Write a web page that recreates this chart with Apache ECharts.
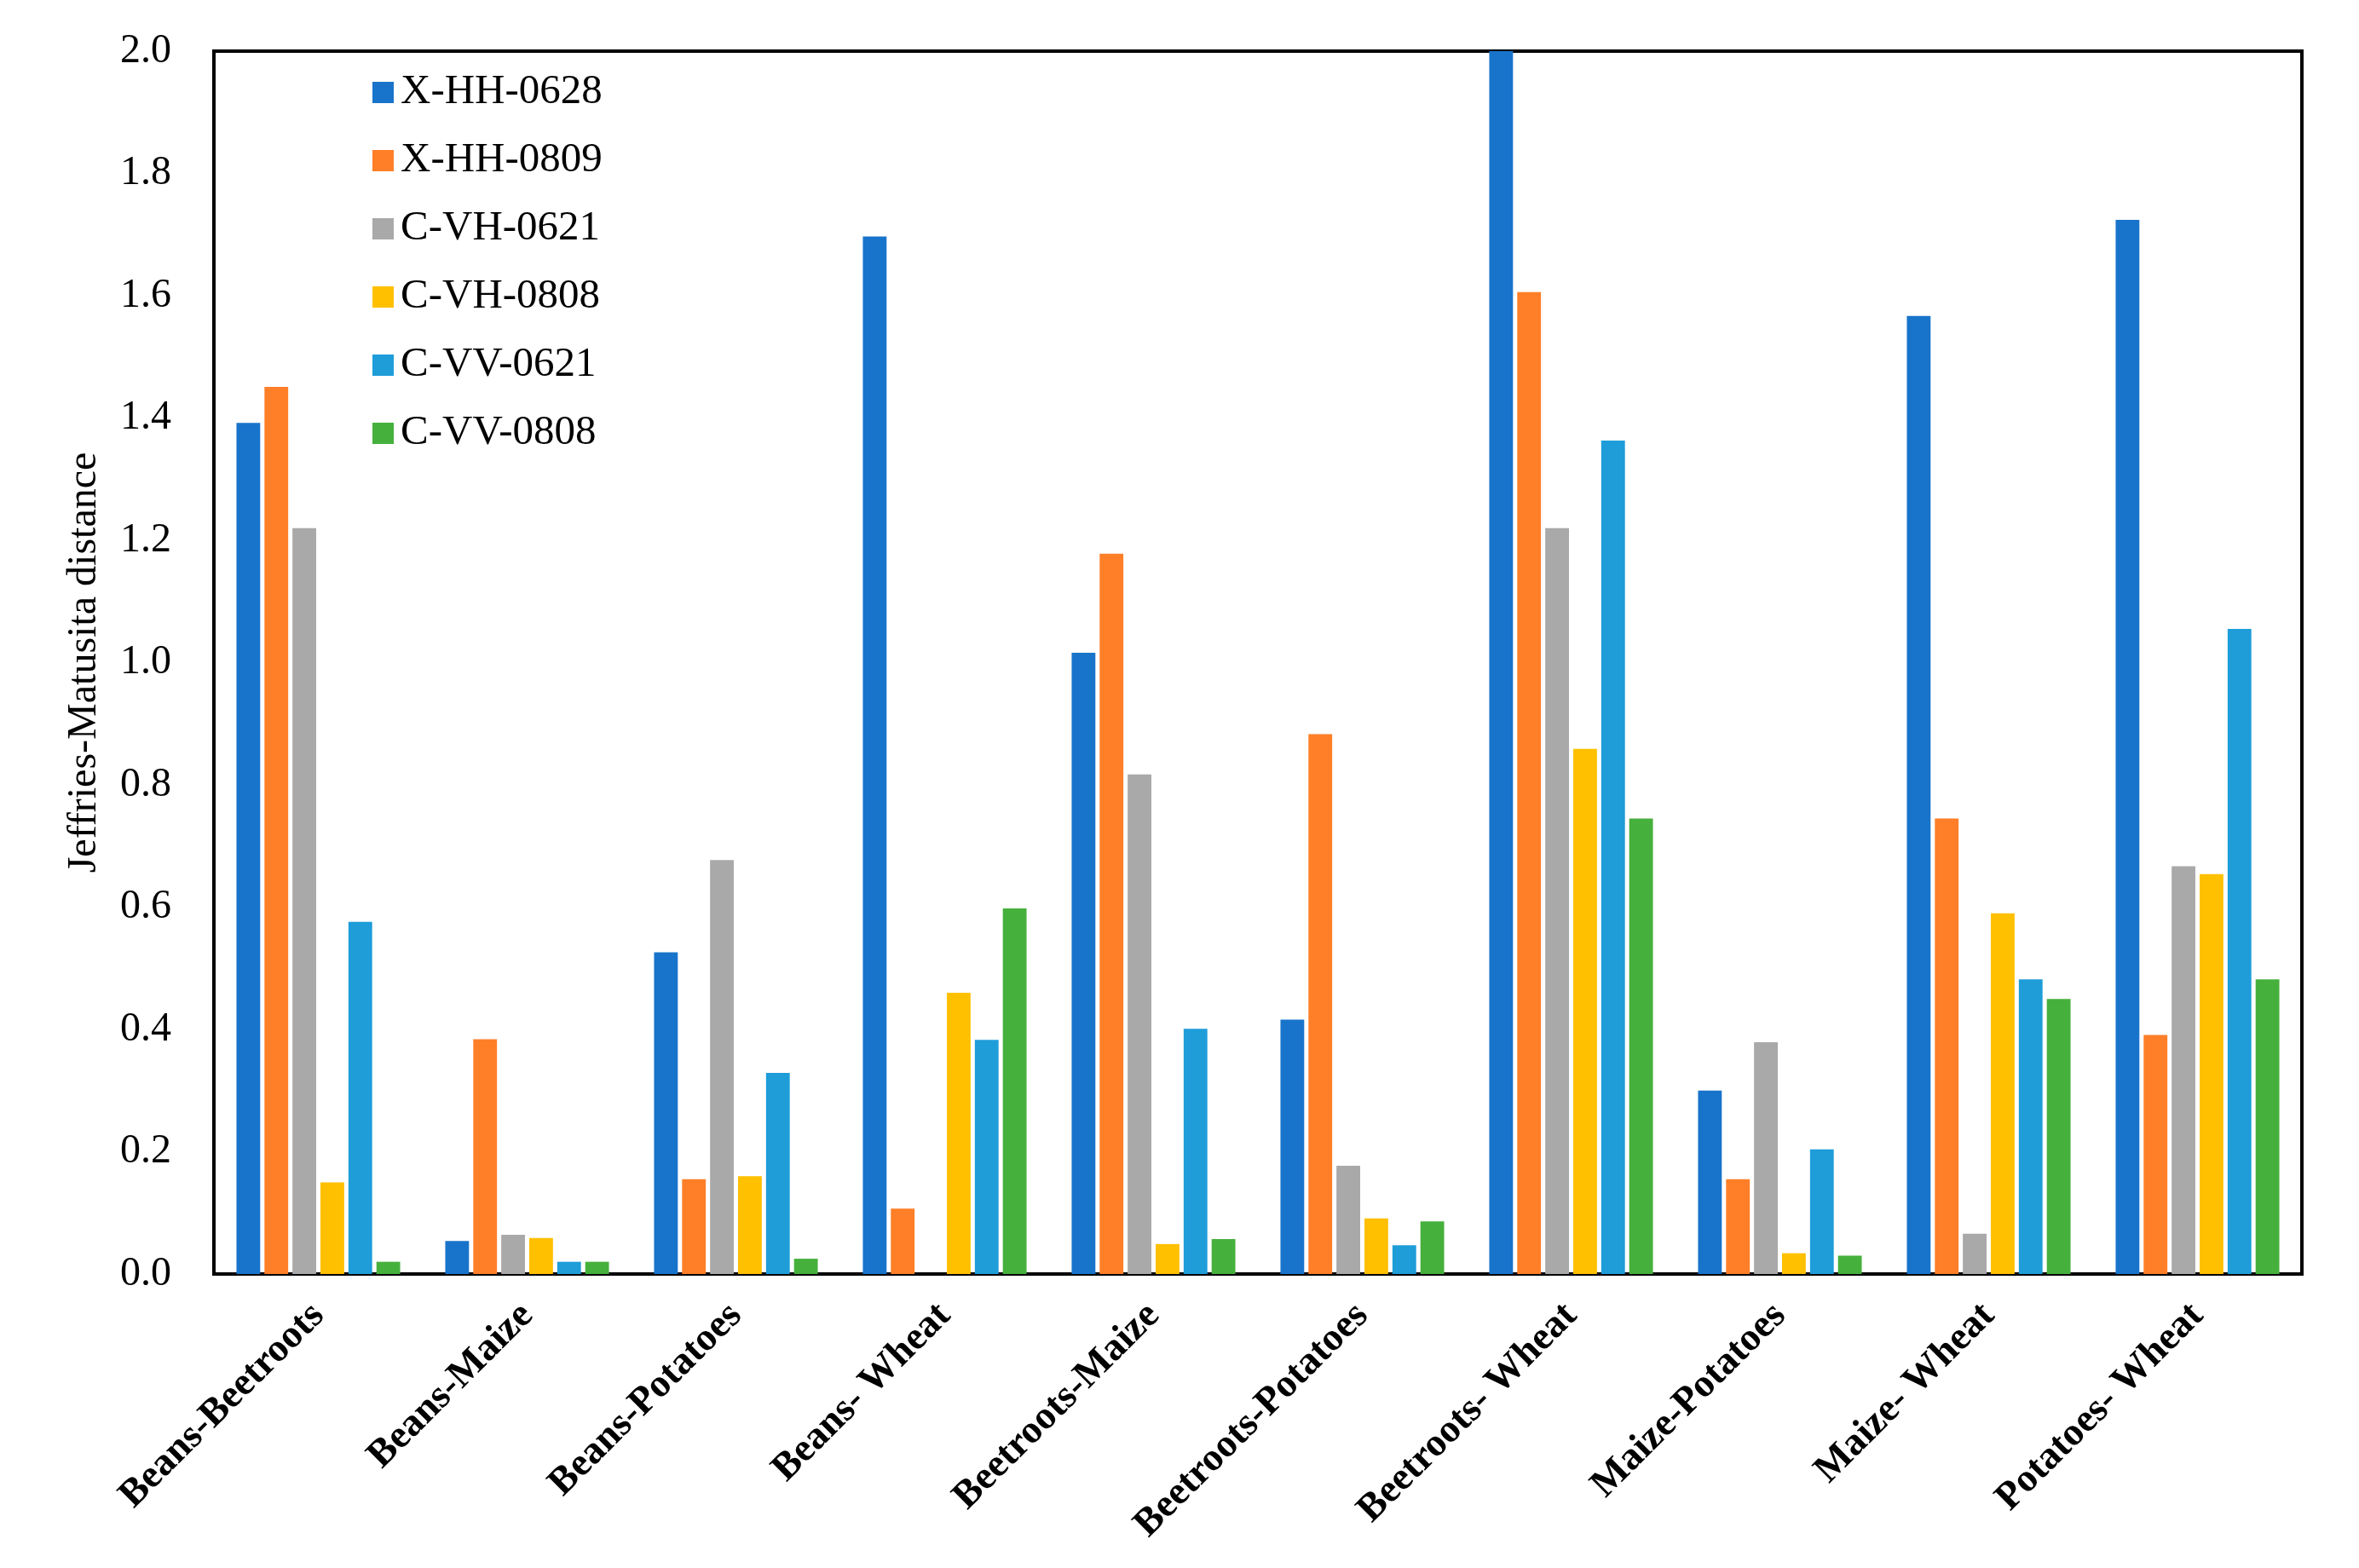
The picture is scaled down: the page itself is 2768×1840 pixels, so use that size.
<!DOCTYPE html>
<html>
<head>
<meta charset="utf-8">
<script src="https://cdn.jsdelivr.net/npm/echarts@6/dist/echarts.min.js"></script>
<style>
html, body { margin: 0; padding: 0; background: #fff; }
#chart { width: 2768px; height: 1840px; }
</style>
</head>
<body>
<div id="chart"></div>
<script>
// categories
var categories = ['Beans-Beetroots', 'Beans-Maize', 'Beans-Potatoes', 'Beans- Wheat', 'Beetroots-Maize',
	'Beetroots-Potatoes', 'Beetroots- Wheat', 'Maize-Potatoes', 'Maize- Wheat', 'Potatoes- Wheat'];
var seriesNames = ['X-HH-0628', 'X-HH-0809', 'C-VH-0621', 'C-VH-0808', 'C-VV-0621', 'C-VV-0808'];
// series values
var xhh0628 = [1.392, 0.054, 0.526, 1.697, 1.016, 0.416, 2.000, 0.300, 1.567, 1.724];
var xhh0809 = [1.451, 0.384, 0.155, 0.107, 1.178, 0.883, 1.606, 0.155, 0.745, 0.391];
var cvh0621 = [1.220, 0.064, 0.677, 0.000, 0.817, 0.177, 1.220, 0.379, 0.066, 0.667];
var cvh0808 = [0.150, 0.059, 0.160, 0.460, 0.049, 0.091, 0.859, 0.034, 0.590, 0.654];
var cvv0621 = [0.576, 0.020, 0.329, 0.383, 0.401, 0.047, 1.363, 0.204, 0.482, 1.055];
var cvv0808 = [0.020, 0.020, 0.025, 0.598, 0.057, 0.086, 0.745, 0.030, 0.450, 0.482];
// tick labels
var yTicks = [0, 0.2, 0.4, 0.6, 0.8, 1.0, 1.2, 1.4, 1.6, 1.8, 2.0];

var colors = ['#1874cb', '#fe7f28', '#a9a9a9', '#ffc000', '#1e9dd9', '#46b03d'];
var values = [xhh0628, xhh0809, cvh0621, cvh0808, cvv0621, cvv0808];
var font = 'Liberation Serif, Times New Roman, serif';

var series = [];
for (var i = 0; i < seriesNames.length; i++) {
	series.push({
		name: seriesNames[i],
		type: 'bar',
		data: values[i],
		barGap: '18%',
		barCategoryGap: '21.6%',
		itemStyle: { color: colors[i] }
	});
}

var myChart = echarts.init(document.getElementById('chart'));
var option = {
	animation: false,
	backgroundColor: '#fff',
	grid: {
		left: 251, right: 67, top: 60, bottom: 345,
		show: true, borderColor: '#000', borderWidth: 4
	},
	legend: {
		orient: 'vertical',
		left: 432, top: 79,
		icon: 'rect',
		itemWidth: 25, itemHeight: 25, itemGap: 31,
		textStyle: { fontFamily: font, fontSize: 49, color: '#000', padding: [0, 0, 0, 3] },
		data: seriesNames
	},
	xAxis: {
		type: 'category',
		data: categories,
		axisLine: { show: false },
		axisTick: { show: false },
		axisLabel: {
			rotate: 45, margin: 42, interval: 0,
			fontFamily: font, fontSize: 46, fontWeight: 'bold', color: '#000'
		}
	},
	yAxis: {
		type: 'value',
		min: yTicks[0], max: yTicks[yTicks.length - 1], interval: 0.2,
		name: 'Jeffries-Matusita distance',
		nameLocation: 'middle', nameGap: 128,
		nameTextStyle: { fontFamily: font, fontSize: 48, color: '#000' },
		axisLine: { show: false },
		axisTick: { show: false },
		splitLine: { show: false },
		axisLabel: {
			margin: 50, fontFamily: font, fontSize: 48, color: '#000',
			formatter: function (v) { return v.toFixed(1); }
		}
	},
	series: series
};
myChart.setOption(option);
</script>
</body>
</html>
